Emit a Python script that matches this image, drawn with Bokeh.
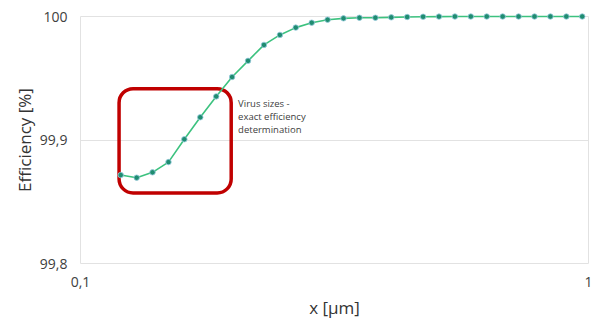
from bokeh.plotting import figure
from bokeh.models import (FixedTicker, CustomJSTickFormatter, BoxAnnotation, Label,
                          Range1d, ColumnDataSource)
from bokeh.embed import file_html
from bokeh.resources import INLINE

# ---- data ----
x_um = [0.120, 0.129, 0.1386, 0.149, 0.1601, 0.1721, 0.185, 0.1988, 0.2137, 0.2297,
        0.2469, 0.2653, 0.2852, 0.3065, 0.3294, 0.3541, 0.3806, 0.409, 0.4396, 0.4725,
        0.5078, 0.5458, 0.5866, 0.6305, 0.6777, 0.7284, 0.7829, 0.8414, 0.9044, 0.972]
efficiency = [99.8716, 99.8695, 99.8738, 99.8821, 99.9006, 99.9184, 99.9353, 99.951,
              99.9641, 99.977, 99.9851, 99.991, 99.995, 99.9974, 99.9985, 99.999,
              99.999, 99.9993, 99.9996, 99.9998, 99.9999, 100.0, 100.0, 100.0, 100.0,
              100.0, 100.0, 100.0, 100.0, 100.0]
x_ticks = [0.1, 1.0]
y_ticks = [99.8, 99.9, 100.0]

# annotation box (data coordinates)
box_left, box_right = 0.1191, 0.1980
box_bottom, box_top = 99.8571, 99.9415
note_x = 0.2043
note_lines = ["Virus sizes -", "exact efficiency", "determination"]
note_top = 99.9351

FONT = "Open Sans"
TXT = "#404040"

p = figure(width=592, height=321, x_axis_type="log",
           x_range=Range1d(0.1, 1.0), y_range=Range1d(99.8, 100.0),
           output_backend="svg", toolbar_location=None,
           min_border_left=80, min_border_right=4, min_border_top=16, min_border_bottom=57,
           background_fill_color="white", border_fill_color="white")

p.outline_line_color = "#E2E2E2"
p.outline_line_width = 1

# grid
p.xgrid.ticker = FixedTicker(ticks=x_ticks)
p.xgrid.grid_line_color = "#E2E2E2"
p.xgrid.minor_grid_line_color = None
p.ygrid.ticker = FixedTicker(ticks=y_ticks)
p.ygrid.grid_line_color = "#E2E2E2"

# axes
xa = p.xaxis[0]
xa.ticker = FixedTicker(ticks=x_ticks)
xa.formatter = CustomJSTickFormatter(code="return tick < 1 ? tick.toFixed(1).replace('.', ',') : tick.toFixed(0);")
ya = p.yaxis[0]
ya.ticker = FixedTicker(ticks=y_ticks)
ya.formatter = CustomJSTickFormatter(code="return tick.toFixed(1).replace('.', ',').replace(',0', '');")

for ax in (xa, ya):
    ax.axis_line_color = None
    ax.major_tick_line_color = None
    ax.minor_tick_line_color = None
    ax.major_tick_out = 0
    ax.major_tick_in = 0
    ax.minor_tick_out = 0
    ax.minor_tick_in = 0
    ax.major_label_text_font = FONT
    ax.major_label_text_font_size = "14px"
    ax.major_label_text_color = TXT
    ax.axis_label_text_font = FONT
    ax.axis_label_text_font_size = "17px"
    ax.axis_label_text_font_style = "normal"
    ax.axis_label_text_color = "#333333"

xa.axis_label = "x [µm]"
xa.major_label_standoff = 13
xa.axis_label_standoff = 6
ya.axis_label = "Efficiency [%]"
ya.major_label_standoff = 13
ya.axis_label_standoff = 1

# data
src = ColumnDataSource(dict(x=x_um, y=efficiency))
ln = p.line("x", "y", source=src, line_color="#3CC27F", line_width=1.6)
sc = p.scatter("x", "y", source=src, size=5.5, fill_color="#1F8C70",
               line_color="#9ACBE0", line_width=0.8)
ln.level = "overlay"
sc.level = "overlay"

# annotation box
box = BoxAnnotation(left=box_left, right=box_right, bottom=box_bottom, top=box_top,
                    fill_alpha=0, line_color="#C00000", line_alpha=1.0, line_width=3.5,
                    border_radius=14, level="annotation")
p.add_layout(box)

for i, t in enumerate(note_lines):
    p.add_layout(Label(x=note_x, y=note_top, text=t, y_offset=-13 * i,
                       text_font=FONT, text_font_size="9.5px", text_color=TXT,
                       text_baseline="top", text_align="left"))

open("out.html", "w").write(file_html(p, INLINE))
